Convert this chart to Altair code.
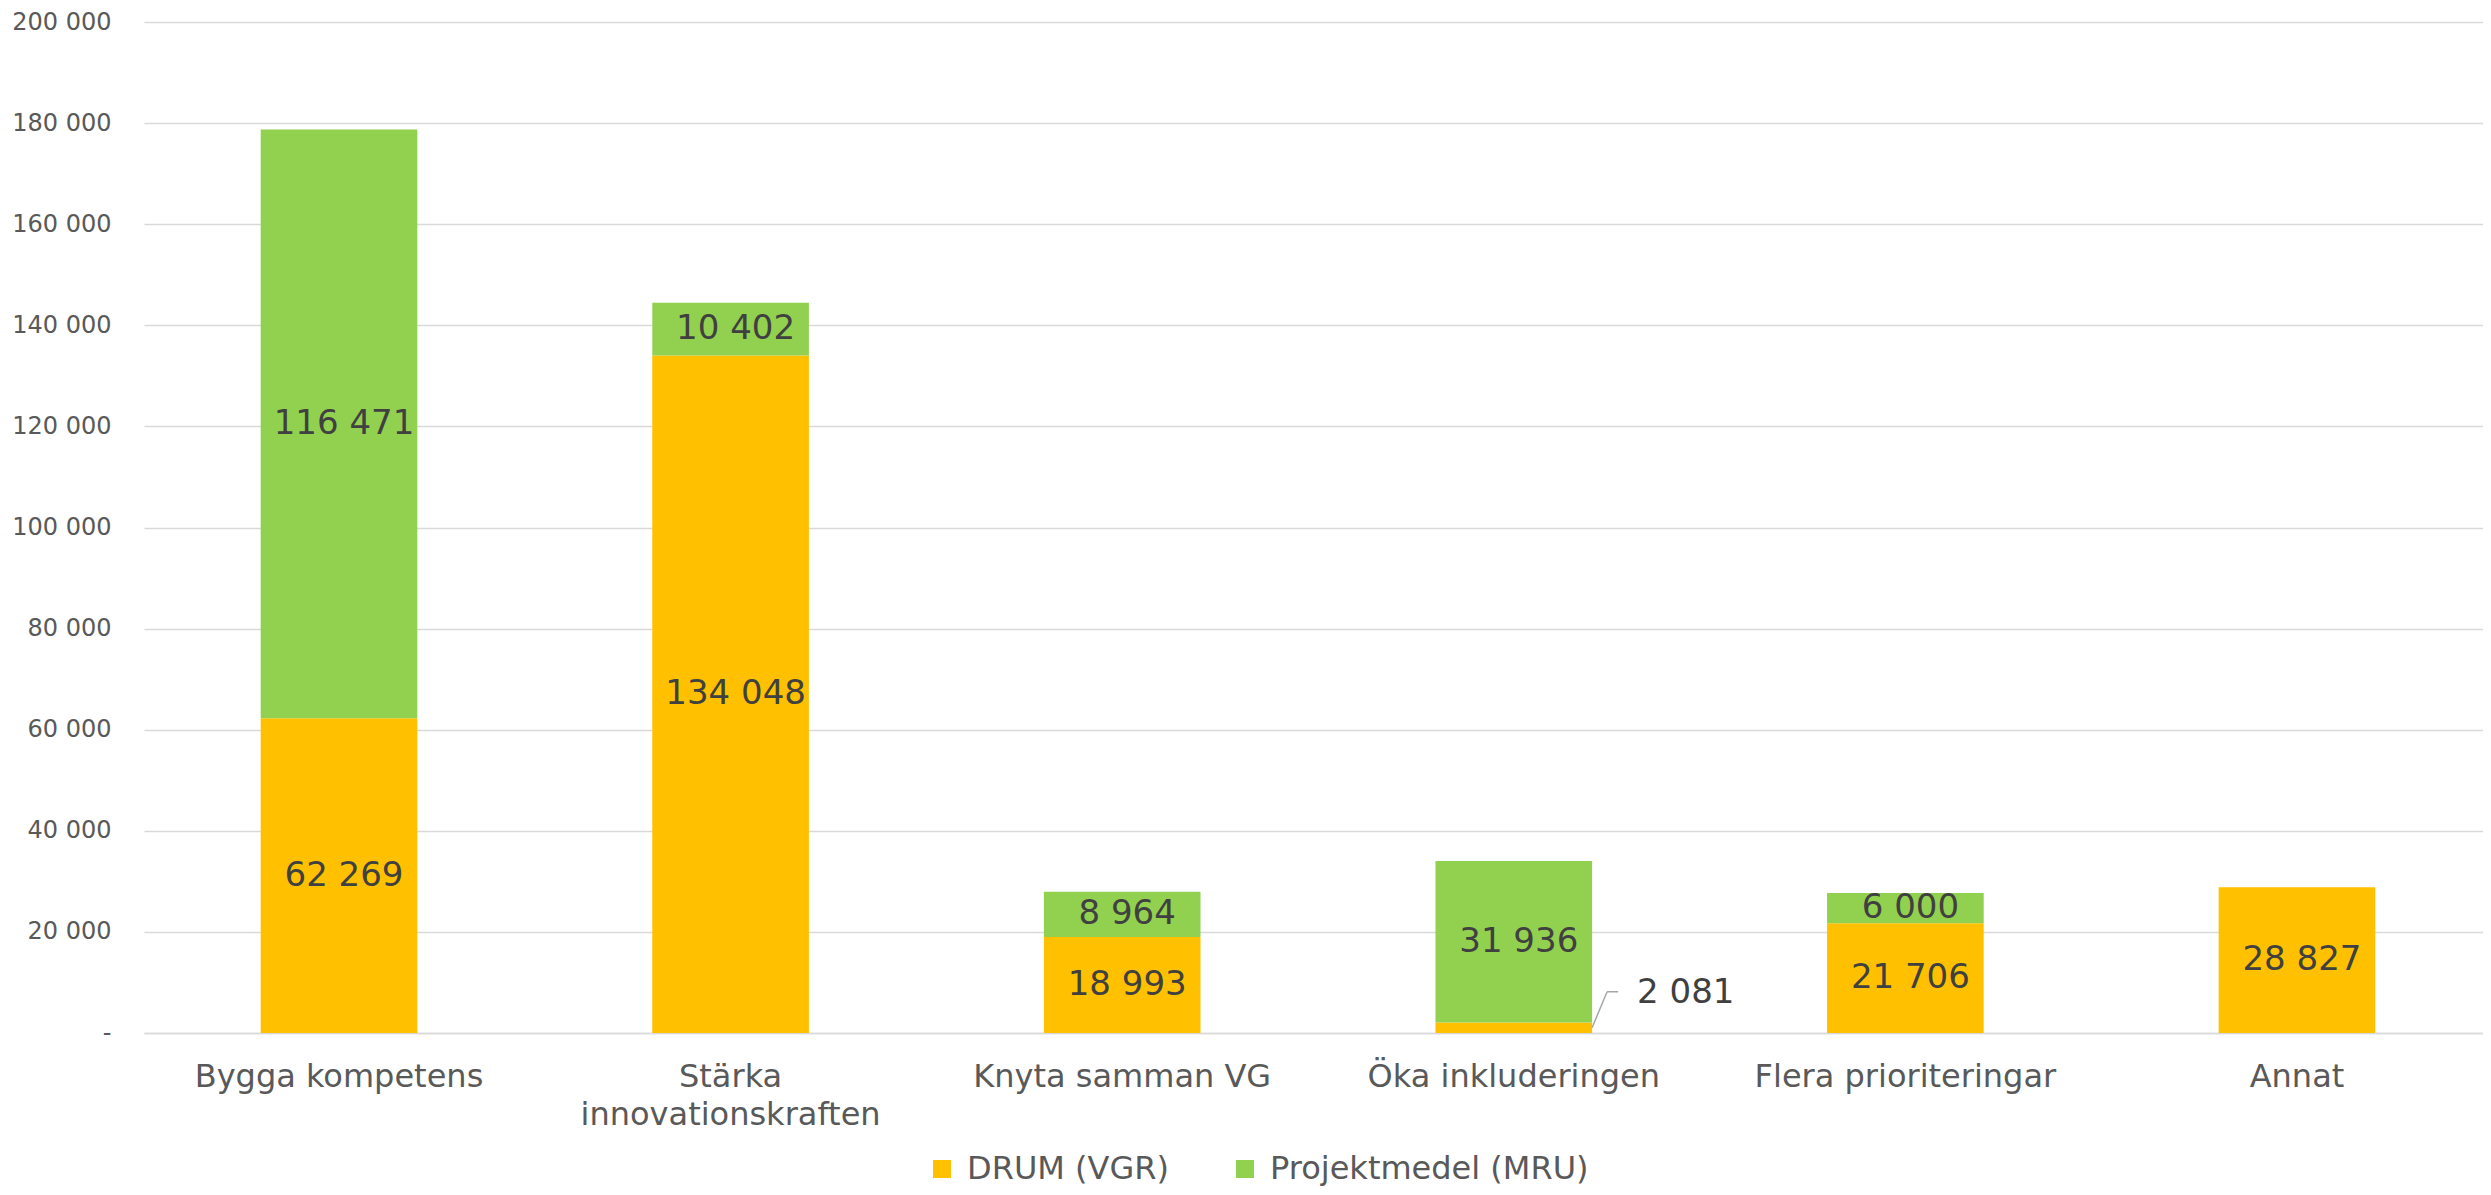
import altair as alt
import pandas as pd

categories = [
    "Bygga kompetens",
    "Stärka\ninnovationskraften",
    "Knyta samman VG",
    "Öka inkluderingen",
    "Flera prioriteringar",
    "Annat",
]
series_names = ["DRUM (VGR)", "Projektmedel (MRU)"]
drum_values = [62269, 134048, 18993, 2081, 21706, 28827]
mru_values = [116471, 10402, 8964, 31936, 6000, 0]
y_ticks = [0, 20000, 40000, 60000, 80000, 100000, 120000, 140000, 160000, 180000, 200000]
colors = ["#FFC000", "#92D050"]

FONT = "DejaVu Sans"
AXIS_GRAY = "#595959"
LABEL_GRAY = "#404040"
GRID = "#D9D9D9"

rows = []
for i, c in enumerate(categories):
    for s_idx, (s, vals) in enumerate(zip(series_names, [drum_values, mru_values])):
        v = vals[i]
        rows.append(dict(category=c, series=s, order=s_idx, value=v,
                         label=f"{v:,}".replace(",", " "), outside=bool(v < 4000)))
df = pd.DataFrame(rows)
df = df[df["value"] > 0].reset_index(drop=True)

x_scale = alt.Scale(paddingInner=0.6, paddingOuter=0.2865, align=0.52)

bars = alt.Chart(df).mark_bar().encode(
    x=alt.X("category:N", sort=categories, scale=x_scale,
            axis=alt.Axis(title=None, labelExpr="split(datum.label, '\\n')",
                          labelAngle=0, labelFont=FONT, labelFontSize=32,
                          labelColor=AXIS_GRAY, labelPadding=28, labelLineHeight=38,
                          labelLimit=0, ticks=False, domainColor=GRID, domainWidth=1.5,
                          labelBaseline="top")),
    y=alt.Y("value:Q", stack="zero",
            scale=alt.Scale(domain=[0, 200000], nice=False),
            axis=alt.Axis(title=None, values=y_ticks, grid=True, gridColor=GRID,
                          gridWidth=1.5, domain=False, ticks=False,
                          labelFont=FONT, labelFontSize=24, labelColor=AXIS_GRAY,
                          labelPadding=33, labelLimit=0,
                          labelExpr="datum.value == 0 ? '-\u00a0\u00a0' : replace(format(datum.value, ','), regexp(',', 'g'), ' ')")),
    color=alt.Color("series:N", scale=alt.Scale(domain=series_names, range=colors),
                    legend=alt.Legend(orient="none", legendX=782, legendY=1131,
                                      direction="horizontal", title=None,
                                      labelFont=FONT, labelFontSize=32, labelLimit=0,
                                      labelColor=AXIS_GRAY, symbolType="square",
                                      symbolSize=324, symbolStrokeWidth=0,
                                      labelExpr="datum.label == 'DRUM (VGR)' ? '\u00a0' + datum.label : datum.label",
                                      labelOffset=9, columnPadding=60, padding=0)),
    order=alt.Order("order:Q", sort="ascending"),
)

stacked = alt.Chart(df).transform_stack(
    stack="value", groupby=["category"], as_=["v0", "v1"],
    sort=[alt.SortField("order", order="ascending")],
).transform_calculate(mid="(datum.v0 + datum.v1) / 2")

text_in = stacked.transform_filter("!datum.outside").mark_text(
    font=FONT, fontSize=34, color=LABEL_GRAY, dx=5, baseline="middle"
).encode(
    x=alt.X("category:N", sort=categories),
    y=alt.Y("mid:Q"),
    text="label:N",
)

text_out = stacked.transform_filter("datum.outside").mark_text(
    font=FONT, fontSize=34, color=LABEL_GRAY, align="left", dx=45, dy=-35,
    baseline="middle"
).encode(
    x=alt.X("category:N", sort=categories, bandPosition=1),
    y=alt.Y("mid:Q"),
    text="label:N",
)

leader1 = stacked.transform_filter("datum.outside").mark_rule(
    color="#A6A6A6", strokeWidth=1.5, x2Offset=15, y2Offset=-36
).encode(
    x=alt.X("category:N", sort=categories, bandPosition=1),
    x2=alt.X2("category", bandPosition=1),
    y=alt.Y("mid:Q"),
    y2=alt.Y2("mid"),
)

leader2 = stacked.transform_filter("datum.outside").mark_rule(
    color="#A6A6A6", strokeWidth=1.5, xOffset=15, x2Offset=26, yOffset=-36, y2Offset=-36
).encode(
    x=alt.X("category:N", sort=categories, bandPosition=1),
    x2=alt.X2("category", bandPosition=1),
    y=alt.Y("mid:Q"),
    y2=alt.Y2("mid"),
)

chart = alt.layer(bars, text_in, leader1, leader2, text_out).properties(
    width=2339, height=1011,
    padding={"left": 136, "top": 14, "right": 0, "bottom": 154},
    autosize=alt.AutoSizeParams(type="none"),
    background="white",
).configure_view(stroke=None)

chart.save("out.html", embed_options={"renderer": "svg", "actions": False})
